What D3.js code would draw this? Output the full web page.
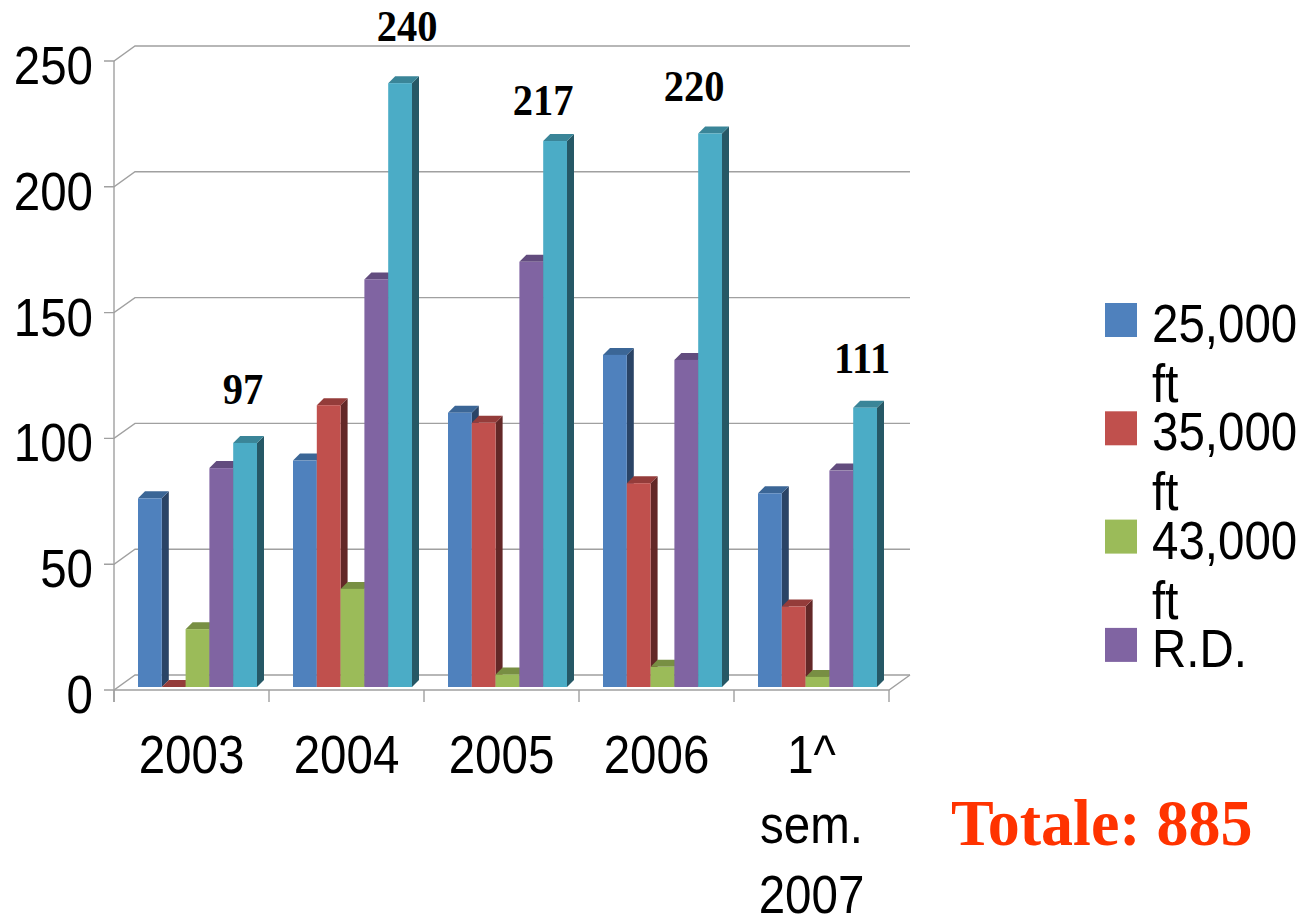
<!DOCTYPE html>
<html>
<head>
<meta charset="utf-8">
<script src="https://cdn.jsdelivr.net/npm/d3@7/dist/d3.min.js"></script>
<style>
  html, body { margin: 0; padding: 0; background: #ffffff; }
  svg { display: block; }
</style>
</head>
<body>
<svg id="chart" width="1308" height="914"></svg>
<script>
// ---------------- data ----------------
const categories = ["2003", "2004", "2005", "2006", "1^ sem. 2007"];
const seriesNames = ["25,000 ft", "35,000 ft", "43,000 ft", "R.D.", "Totale"];
const s25000 = [75, 90, 109, 132, 77];
const s35000 = [0, 112, 105, 81, 32];
const s43000 = [23, 39, 5, 8, 4];
const sRD = [87, 162, 169, 130, 86];
const sTotale = [97, 240, 217, 220, 111];
const yTicks = [0, 50, 100, 150, 200, 250];
const legendNames = ["25,000 ft", "35,000 ft", "43,000 ft", "R.D."];
const totalLabel = "Totale: 885";

const seriesValues = [s25000, s35000, s43000, sRD, sTotale];

// ---------------- styles ----------------
const faceColors = [
  { front: "#4f81bd", top: "#3b6696", side: "#2a4466" },
  { front: "#c0504d", top: "#943c3a", side: "#632827" },
  { front: "#9bbb59", top: "#788f43", side: "#55652f" },
  { front: "#8064a2", top: "#624c7e", side: "#433454" },
  { front: "#4bacc6", top: "#3a8598", side: "#265866" }
];
const gridColor = "#a0a0a0";
const sansFont = "'Liberation Sans', Arial, sans-serif";
const serifFont = "'Liberation Serif', 'Times New Roman', serif";

// ---------------- layout ----------------
const svg = d3.select("#chart");
const frontLeft = 114, frontRight = 889;
const wallDX = 21, wallDY = -15;          // depth of the back wall
const barPlaneDX = 4, barPlaneDY = -3;    // bars sit slightly behind front edge
const barDX = 7, barDY = -7;              // bar depth
const groupPad = 20;
const barW = 23.8;

const x = d3.scaleBand().domain(categories).range([frontLeft, frontRight]).paddingInner(0).paddingOuter(0);
const y = d3.scaleLinear().domain([0, 250]).range([690, 61]);

const g = svg.append("g");

// back wall gridlines with diagonal connectors and tick marks
yTicks.forEach(t => {
  const yy = y(t);
  const pts = [[frontLeft - 10, yy], [frontLeft, yy], [frontLeft + wallDX, yy + wallDY], [frontRight + wallDX, yy + wallDY]];
  g.append("path")
    .attr("d", d3.line()(pts))
    .attr("fill", "none").attr("stroke", gridColor).attr("stroke-width", 1.4);
});

// floor front edge + right diagonal
g.append("path")
  .attr("d", d3.line()([[frontLeft, y(0)], [frontRight, y(0)], [frontRight + wallDX, y(0) + wallDY]]))
  .attr("fill", "none").attr("stroke", gridColor).attr("stroke-width", 1.4);

// vertical axis line
g.append("line")
  .attr("x1", frontLeft).attr("x2", frontLeft)
  .attr("y1", y(250)).attr("y2", y(0) + 12)
  .attr("stroke", gridColor).attr("stroke-width", 1.4);

// category separator ticks
const sepXs = categories.map(c => x(c)).concat([frontRight]);
sepXs.forEach(sx => {
  g.append("line")
    .attr("x1", sx).attr("x2", sx)
    .attr("y1", y(0)).attr("y2", y(0) + 12)
    .attr("stroke", gridColor).attr("stroke-width", 1.4);
});

// y tick labels
yTicks.forEach(t => {
  g.append("text")
    .attr("transform", `translate(${frontLeft - 21},${y(t) + 23}) scale(1,1.13)`)
    .attr("text-anchor", "end")
    .attr("font-family", sansFont)
    .attr("font-size", 47.5)
    .attr("fill", "#000")
    .text(t);
});

// category labels
categories.forEach(c => {
  const lines = c.split(" ");
  lines.forEach((ln, i) => {
    g.append("text")
      .attr("transform", `translate(${x(c) + x.bandwidth() / 2},${773 + i * 70}) scale(1,1.13)`)
      .attr("text-anchor", "middle")
      .attr("font-family", sansFont)
      .attr("font-size", 47.5)
      .attr("fill", "#000")
      .text(ln);
  });
});

// 3D bars
const barsG = g.append("g");
categories.forEach((c, ci) => {
  seriesValues.forEach((vals, si) => {
    const v = vals[ci];
    const x0 = x(c) + barPlaneDX + groupPad + si * barW;
    const x1 = x0 + barW;
    const yb = y(0) + barPlaneDY;
    const yt = y(v) + barPlaneDY;
    const col = faceColors[si];
    // side face
    barsG.append("path")
      .attr("d", d3.line()([[x1, yb], [x1, yt], [x1 + barDX, yt + barDY], [x1 + barDX, yb + barDY]]) + "Z")
      .attr("fill", col.side);
    // top face
    barsG.append("path")
      .attr("d", d3.line()([[x0, yt], [x1, yt], [x1 + barDX, yt + barDY], [x0 + barDX, yt + barDY]]) + "Z")
      .attr("fill", col.top);
    // front face
    barsG.append("rect")
      .attr("x", x0).attr("y", yt)
      .attr("width", barW).attr("height", Math.max(0, yb - yt))
      .attr("fill", col.front);
  });
});

// value labels above the "Totale" bars (hand-placed text boxes in the original)
const labelNudge = [[-2, -39], [7, -42], [-12, -26], [-16, -32], [-3, -35]];
categories.forEach((c, ci) => {
  const v = sTotale[ci];
  const cx = x(c) + barPlaneDX + groupPad + 4 * barW + barW / 2 + labelNudge[ci][0];
  const by = y(v) + barPlaneDY + labelNudge[ci][1];
  g.append("text")
    .attr("transform", `translate(${cx},${by}) scale(1,1.1)`)
    .attr("text-anchor", "middle")
    .attr("font-family", serifFont)
    .attr("font-weight", "bold")
    .attr("font-size", 40.5)
    .attr("fill", "#000")
    .text(v);
});

// legend
const legendG = g.append("g");
legendNames.forEach((name, i) => {
  const base = 342 + i * 108.3;
  legendG.append("rect")
    .attr("x", 1105).attr("y", base - 39)
    .attr("width", 32).attr("height", 34)
    .attr("fill", faceColors[i].front);
  name.split(" ").forEach((ln, li) => {
    legendG.append("text")
      .attr("transform", `translate(1152,${base + li * 60}) scale(1,1.13)`)
      .attr("font-family", sansFont)
      .attr("font-size", 47.5)
      .attr("fill", "#000")
      .text(ln);
  });
});

// total annotation
g.append("text")
  .attr("transform", "translate(951,845) scale(1,1.03)")
  .attr("font-family", serifFont)
  .attr("font-weight", "bold")
  .attr("font-size", 64)
  .attr("fill", "#ff3300")
  .text(totalLabel);
</script>
</body>
</html>
